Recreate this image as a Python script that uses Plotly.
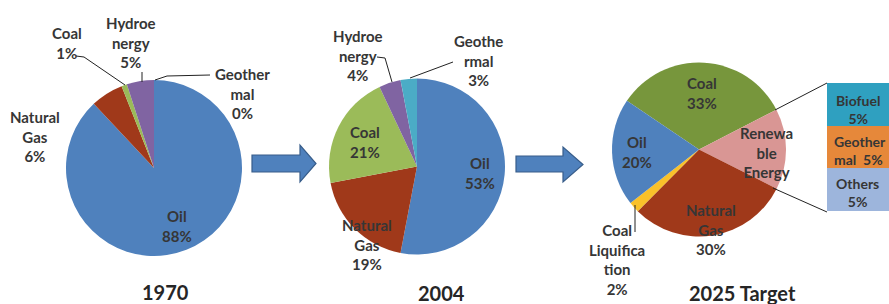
import plotly.graph_objects as go

W, H = 889, 304

# ---------------- data ----------------
labels_1970 = ["Oil", "Natural Gas", "Coal", "Hydroenergy", "Geothermal"]
values_1970 = [88, 6, 1, 5, 0]
colors_1970 = ["#4f81bd", "#a0391a", "#9bbb59", "#8064a2", "#4bacc6"]

labels_2004 = ["Oil", "Natural Gas", "Coal", "Hydroenergy", "Geothermal"]
values_2004 = [53, 19, 21, 4, 3]
colors_2004 = ["#4f81bd", "#a0391a", "#9bbb59", "#8064a2", "#4bacc6"]

labels_2025 = ["Coal", "Renewable Energy", "Natural Gas", "Coal Liquification", "Oil"]
values_2025 = [33, 15, 30, 2, 20]
colors_2025 = ["#77963c", "#d99694", "#a0391a", "#f9c12a", "#4f81bd"]

renew_labels = ["Others", "Geothermal", "Biofuel"]   # bottom -> top
renew_values = [5, 5, 5]
renew_colors = ["#9db5dc", "#e6883a", "#2fa0c0"]

titles = ["1970", "2004", "2025 Target"]

# wrapped display names as in the picture
wrap_1970 = {"Oil": "Oil", "Natural Gas": "Natural<br>Gas", "Coal": "Coal",
             "Hydroenergy": "Hydroe<br>nergy", "Geothermal": "Geother<br>mal"}
wrap_2004 = {"Oil": "Oil", "Natural Gas": "Natural<br>Gas", "Coal": "Coal",
             "Hydroenergy": "Hydroe<br>nergy", "Geothermal": "Geothe<br>rmal"}
wrap_2025 = {"Coal": "Coal", "Natural Gas": "Natural<br>Gas", "Oil": "Oil",
             "Coal Liquification": "Coal<br>Liquifica<br>tion"}
wrap_renew = {"Biofuel": "Biofuel<br>{v}%", "Geothermal": "Geother<br>mal  {v}%",
              "Others": "Others<br>{v}%"}

# ---------------- helpers ----------------
def px(x):
    return x / W

def py(y):
    return 1 - y / H

def dom(cx, cy, r):
    return dict(x=[px(cx - r), px(cx + r)], y=[py(cy + r), py(cy - r)])

TXT = "#363636"
FONT = dict(family="Lato", size=15, color=TXT, weight="bold")
BFONT = dict(family="Lato", size=14, color=TXT, weight="bold")

fig = go.Figure()

fig.add_trace(go.Pie(labels=labels_1970, values=values_1970, sort=False,
                     direction="clockwise", rotation=0, textinfo="none",
                     marker=dict(colors=colors_1970, line=dict(width=0)),
                     domain=dom(154, 168, 88), showlegend=False, hoverinfo="label+percent"))
fig.add_trace(go.Pie(labels=labels_2004, values=values_2004, sort=False,
                     direction="clockwise", rotation=0, textinfo="none",
                     marker=dict(colors=colors_2004, line=dict(width=0)),
                     domain=dom(417, 166.5, 88), showlegend=False, hoverinfo="label+percent"))
fig.add_trace(go.Pie(labels=labels_2025, values=values_2025, sort=False,
                     direction="clockwise", rotation=-56, textinfo="none",
                     marker=dict(colors=colors_2025, line=dict(width=0)),
                     domain=dom(699, 149.5, 87), showlegend=False, hoverinfo="label+percent"))

for lab, val, col in zip(renew_labels, renew_values, renew_colors):
    fig.add_trace(go.Bar(x=[0], y=[val], name=lab, marker=dict(color=col, line=dict(width=0)),
                         width=1, showlegend=False, hoverinfo="name+y"))

BOX_L, BOX_T, BOX_B = 827, 83, 211

fig.update_layout(
    width=W, height=H, autosize=False,
    margin=dict(l=0, r=0, t=0, b=0),
    paper_bgcolor="white", plot_bgcolor="white",
    barmode="stack", bargap=0,
    xaxis=dict(domain=[px(BOX_L), 1], range=[-0.5, 0.5], visible=False, fixedrange=True),
    yaxis=dict(domain=[py(BOX_B), py(BOX_T)], range=[0, sum(renew_values)], visible=False,
               fixedrange=True),
)

annotations = []

def note(text, x, y, font=None, xanchor="center", align="center"):
    annotations.append(dict(text=text, x=px(x), y=py(y), xref="paper", yref="paper",
                            showarrow=False, xanchor=xanchor, yanchor="middle",
                            align=align, font=font or FONT))

def v(lbls, vals, name):
    return vals[lbls.index(name)]

# 1970
note(f"{wrap_1970['Coal']}<br>{v(labels_1970, values_1970, 'Coal')}%", 67, 43)
note(f"{wrap_1970['Hydroenergy']}<br>{v(labels_1970, values_1970, 'Hydroenergy')}%", 131, 42)
note(f"{wrap_1970['Geothermal']}<br>{v(labels_1970, values_1970, 'Geothermal')}%", 242, 93)
note(f"{wrap_1970['Natural Gas']}<br>{v(labels_1970, values_1970, 'Natural Gas')}%", 35, 136)
note(f"{wrap_1970['Oil']}<br>{v(labels_1970, values_1970, 'Oil')}%", 177, 226)
# 2004
note(f"{wrap_2004['Hydroenergy']}<br>{v(labels_2004, values_2004, 'Hydroenergy')}%", 358, 55)
note(f"{wrap_2004['Geothermal']}<br>{v(labels_2004, values_2004, 'Geothermal')}%", 479, 60)
note(f"{wrap_2004['Coal']}<br>{v(labels_2004, values_2004, 'Coal')}%", 365, 142)
note(f"{wrap_2004['Oil']}<br>{v(labels_2004, values_2004, 'Oil')}%", 480, 173)
note(f"{wrap_2004['Natural Gas']}<br>{v(labels_2004, values_2004, 'Natural Gas')}%", 367, 244)
# 2025
note(f"{wrap_2025['Coal']}<br>{v(labels_2025, values_2025, 'Coal')}%", 702, 93)
note("Renewa<br>ble<br>Energy", 766, 152)
note(f"{wrap_2025['Oil']}<br>{v(labels_2025, values_2025, 'Oil')}%", 637, 152)
note(f"{wrap_2025['Natural Gas']}<br>{v(labels_2025, values_2025, 'Natural Gas')}%", 711, 229)
note(f"{wrap_2025['Coal Liquification']}<br>{v(labels_2025, values_2025, 'Coal Liquification')}%", 617, 259)
# renewable breakdown box
note(wrap_renew["Biofuel"].format(v=v(renew_labels, renew_values, "Biofuel")), 858, 109, font=BFONT)
note(wrap_renew["Geothermal"].format(v=v(renew_labels, renew_values, "Geothermal")), 832, 150,
     font=BFONT, xanchor="left", align="left")
note(wrap_renew["Others"].format(v=v(renew_labels, renew_values, "Others")), 857, 193, font=BFONT)

# titles
TFONT = dict(family="Lato", size=20, color="#262626", weight="bold")
note(titles[0], 165, 292, font=TFONT)
note(titles[1], 441, 293, font=TFONT)
note(titles[2], 742, 293, font=TFONT)

fig.update_layout(annotations=annotations)

# ---------------- shapes: leader lines & arrows ----------------
def path(points, closed=False):
    s = "M " + " L ".join(f"{px(x)} {py(y)}" for x, y in points)
    return s + (" Z" if closed else "")

LINE = dict(color="#222222", width=1)
shapes = []
for pts in [
    [(76, 56), (84, 57), (125, 85)],          # coal 1970
    [(142, 72), (142, 82)],                   # hydro 1970
    [(155, 80), (167, 76), (210, 75)],        # geothermal 1970
    [(377, 57), (385, 58), (392, 82)],        # hydro 2004
    [(453, 62), (410, 78)],                   # geothermal 2004
    [(635, 205), (635, 232)],                 # coal liquification
    [(775, 110), (BOX_L, BOX_T)],             # box connector top
    [(773, 188), (BOX_L, BOX_B + 1)],         # box connector bottom
]:
    shapes.append(dict(type="path", xref="paper", yref="paper", path=path(pts),
                       line=LINE, layer="above"))

def arrow(x0, x1, x2, ys0, ys1, yh0, yh1, ytip):
    return [(x0, ys0), (x1, ys0), (x1, yh0), (x2, ytip), (x1, yh1), (x1, ys1), (x0, ys1)]

for pts in [arrow(252, 300, 316, 155, 172, 145, 182, 163.5),
            arrow(516, 563, 583, 156, 172, 147, 182, 164.5)]:
    shapes.append(dict(type="path", xref="paper", yref="paper", path=path(pts, True),
                       fillcolor="#4f81bd", line=dict(color="#385d8a", width=1.2),
                       layer="above"))

fig.update_layout(shapes=shapes)

fig.write_html(
    "out.html",
    config={"displayModeBar": False},
    post_script="document.body.style.margin='0';document.body.style.overflow='hidden';",
)
